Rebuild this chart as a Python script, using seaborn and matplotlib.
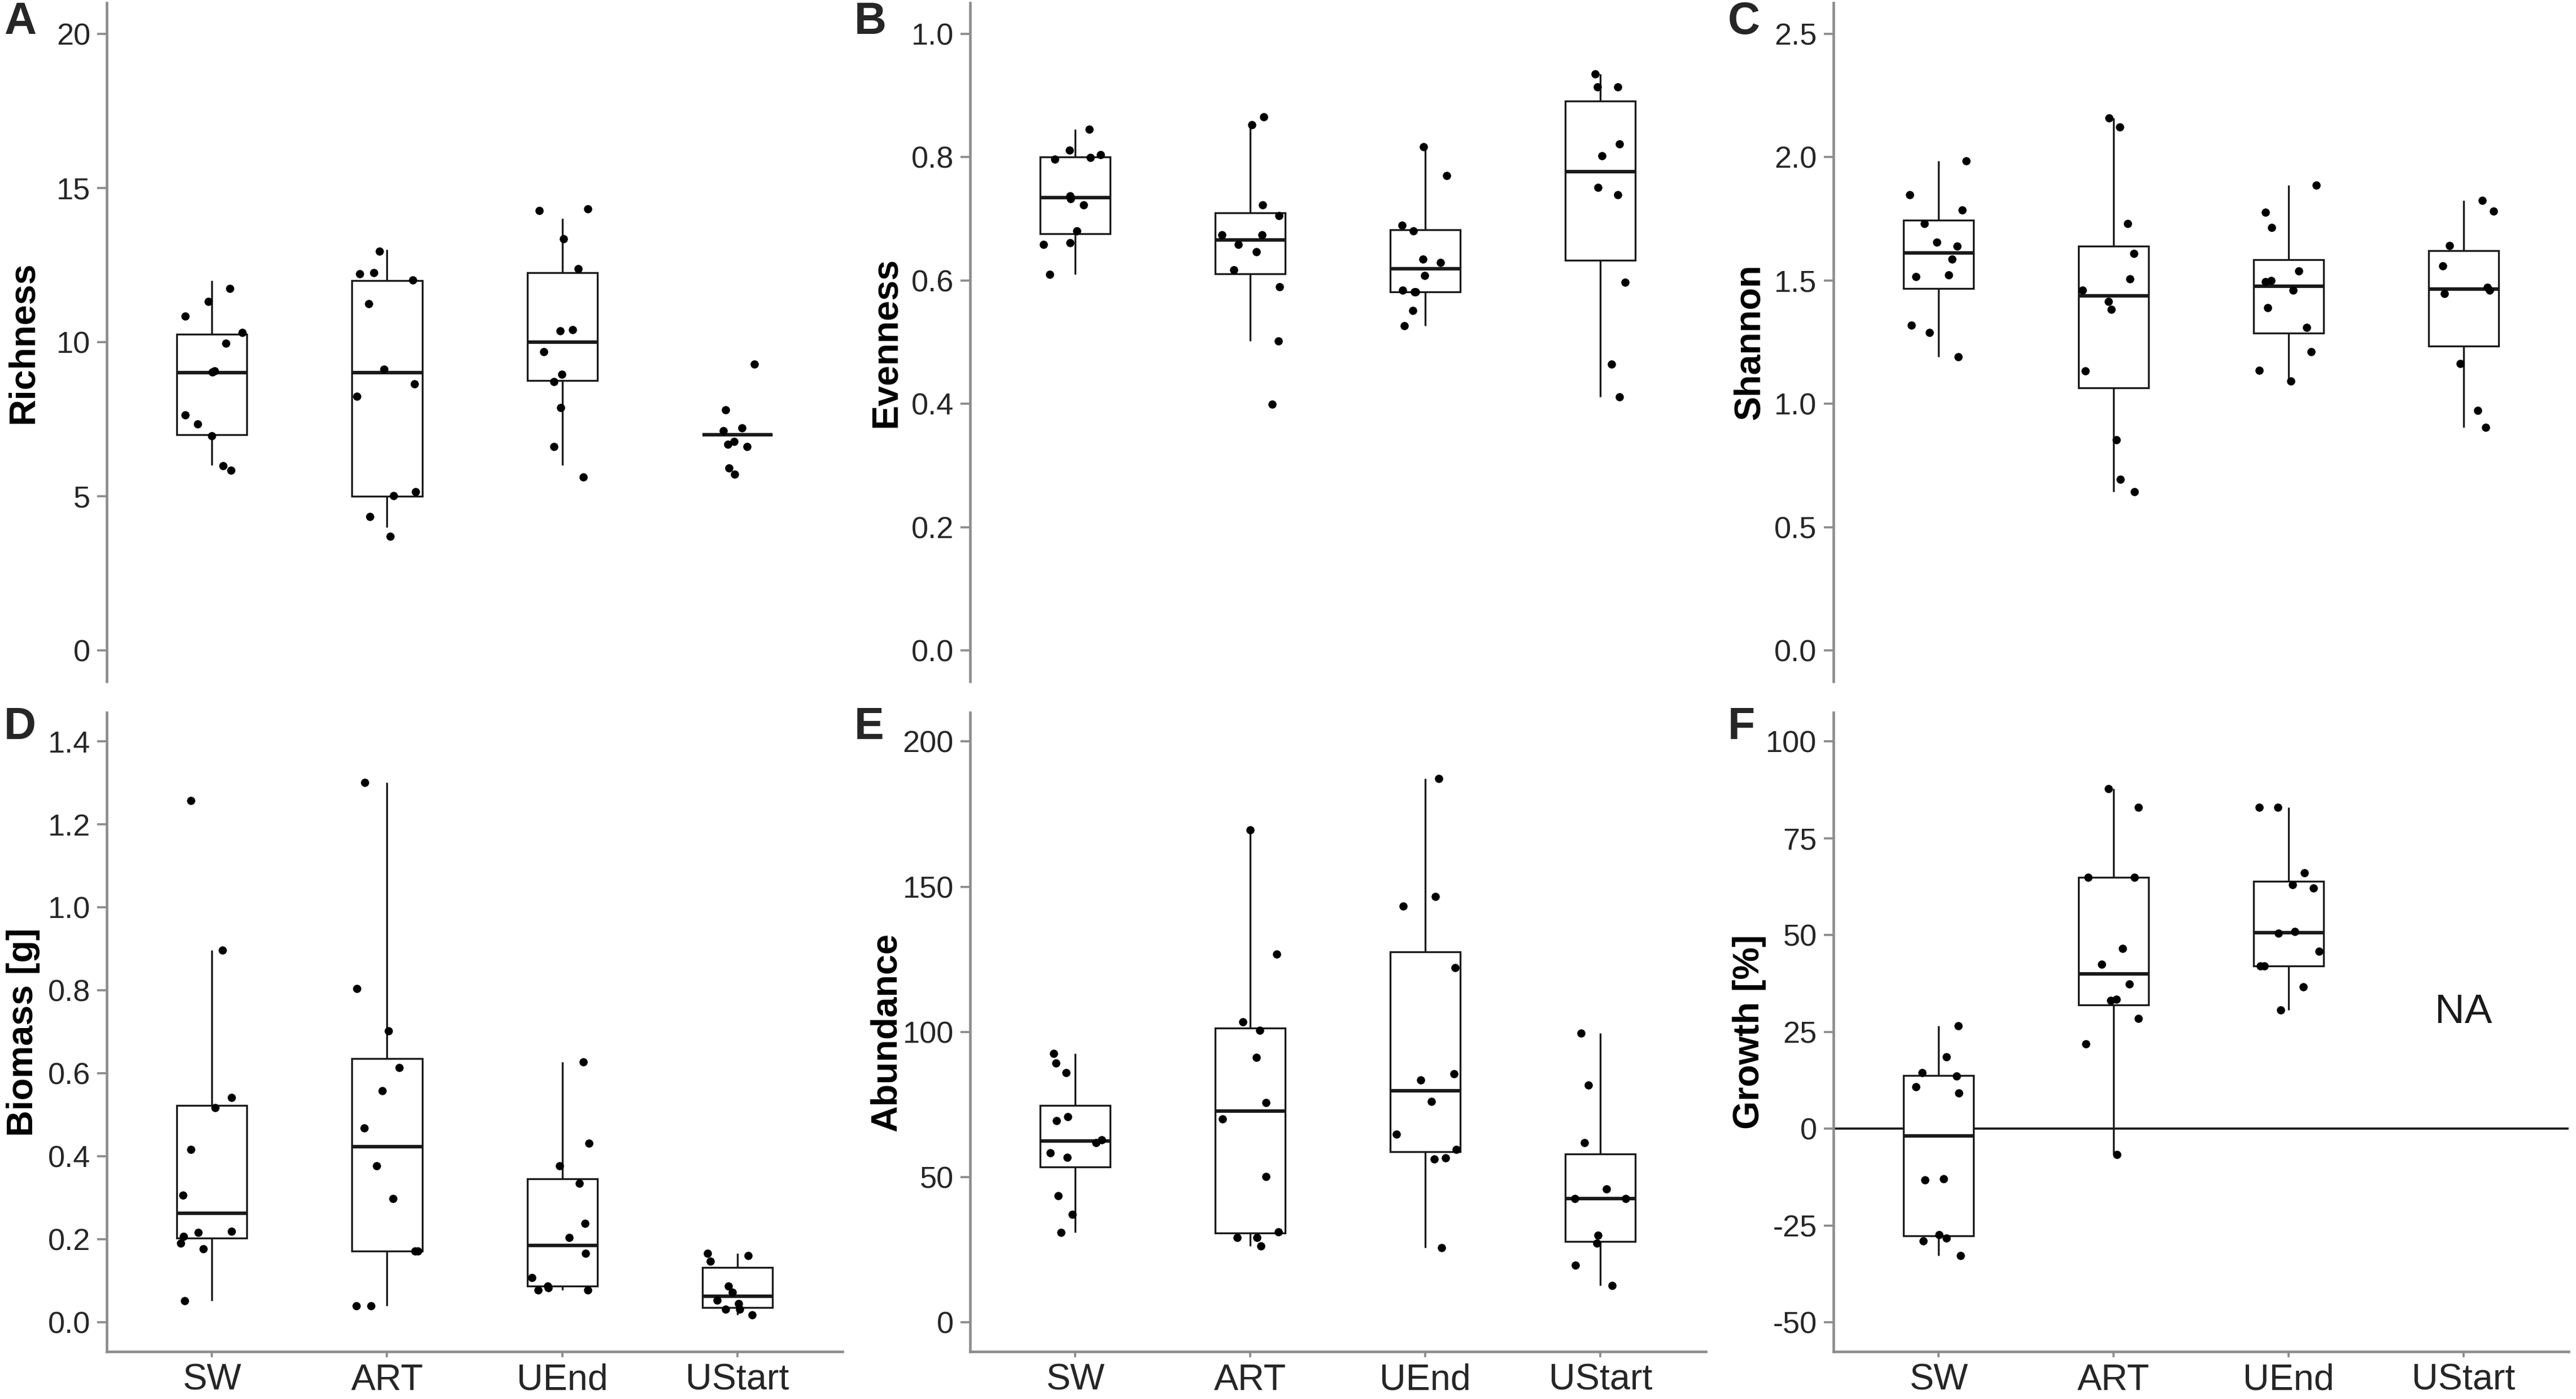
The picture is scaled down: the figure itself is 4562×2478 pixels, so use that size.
import numpy as np
import pandas as pd
import matplotlib
matplotlib.use("Agg")
import matplotlib.pyplot as plt
import seaborn as sns

# groups on the x axis
groups = ['SW', 'ART', 'UEnd', 'UStart']

# values (points as drawn)
richness = {
    'SW': [10.84, 11.73, 11.31, 9.96, 10.30, 9.06, 9.02, 7.64, 7.35, 6.96, 5.99, 5.85],
    'ART': [12.95, 12.22, 12.25, 12.02, 11.24, 9.12, 8.65, 8.24, 5.01, 5.14, 4.35, 3.70],
    'UEnd': [14.31, 14.27, 13.34, 12.38, 10.40, 10.36, 9.68, 8.95, 8.72, 7.88, 6.61, 5.63],
    'UStart': [9.29, 7.80, 7.22, 7.12, 6.77, 6.69, 6.61, 5.91, 5.72],
}
evenness = {
    'SW': [0.845, 0.811, 0.804, 0.796, 0.799, 0.737, 0.732, 0.722, 0.680, 0.661, 0.658, 0.610],
    'ART': [0.865, 0.852, 0.722, 0.705, 0.674, 0.674, 0.658, 0.646, 0.617, 0.590, 0.502, 0.399],
    'UEnd': [0.817, 0.770, 0.689, 0.680, 0.634, 0.629, 0.608, 0.584, 0.581, 0.581, 0.551, 0.526],
    'UStart': [0.935, 0.914, 0.914, 0.821, 0.802, 0.751, 0.739, 0.597, 0.464, 0.411],
}
shannon = {
    'SW': [1.985, 1.848, 1.784, 1.730, 1.655, 1.638, 1.586, 1.516, 1.521, 1.318, 1.289, 1.190],
    'ART': [2.158, 2.122, 1.730, 1.608, 1.505, 1.460, 1.415, 1.382, 1.134, 0.854, 0.694, 0.643],
    'UEnd': [1.885, 1.775, 1.714, 1.539, 1.494, 1.500, 1.460, 1.390, 1.310, 1.211, 1.136, 1.092],
    'UStart': [1.824, 1.781, 1.642, 1.559, 1.471, 1.460, 1.446, 1.163, 0.972, 0.905],
}
biomass = {
    'SW': [1.258, 0.897, 0.542, 0.517, 0.417, 0.306, 0.217, 0.220, 0.207, 0.191, 0.177, 0.052],
    'ART': [1.301, 0.804, 0.703, 0.614, 0.558, 0.469, 0.378, 0.298, 0.172, 0.172, 0.040, 0.040],
    'UEnd': [0.628, 0.432, 0.378, 0.335, 0.239, 0.204, 0.166, 0.108, 0.088, 0.084, 0.078, 0.078],
    'UStart': [0.166, 0.161, 0.148, 0.088, 0.072, 0.054, 0.046, 0.032, 0.032, 0.018],
}
abundance = {
    'SW': [92.6, 89.3, 86.0, 70.9, 69.5, 62.9, 61.9, 58.3, 56.8, 43.7, 37.1, 31.0],
    'ART': [169.6, 126.9, 103.5, 100.5, 91.3, 75.7, 70.0, 50.2, 31.2, 29.2, 29.2, 26.4],
    'UEnd': [187.3, 146.6, 143.4, 122.2, 85.5, 83.5, 76.0, 64.8, 59.6, 56.6, 56.3, 25.8],
    'UStart': [99.6, 81.8, 61.9, 46.0, 42.7, 42.7, 29.9, 27.3, 19.6, 12.6],
}
growth = {
    'SW': [26.6, 18.5, 14.5, 13.6, 10.9, 9.2, -12.9, -13.2, -27.4, -28.2, -28.9, -32.7],
    'ART': [87.8, 83.0, 64.9, 64.9, 46.5, 42.5, 37.4, 33.5, 33.2, 28.5, 21.9, -6.7],
    'UEnd': [83.0, 83.0, 66.1, 63.1, 62.2, 50.9, 50.5, 45.9, 42.1, 42.1, 36.6, 30.7],
    'UStart': [],
}

y_labels = ['Richness', 'Evenness', 'Shannon', 'Biomass [g]', 'Abundance', 'Growth [%]']
y_ticks = [
    [0, 5, 10, 15, 20],
    [0.0, 0.2, 0.4, 0.6, 0.8, 1.0],
    [0.0, 0.5, 1.0, 1.5, 2.0, 2.5],
    [0.0, 0.2, 0.4, 0.6, 0.8, 1.0, 1.2, 1.4],
    [0, 50, 100, 150, 200],
    [-50, -25, 0, 25, 50, 75, 100],
]
tick_fmt = ['{:.0f}', '{:.1f}', '{:.1f}', '{:.1f}', '{:.0f}', '{:.0f}']
letters = ['A', 'B', 'C', 'D', 'E', 'F']


def to_long(d):
    rows = [(g, v) for g in groups for v in d[g]]
    return pd.DataFrame(rows, columns=['group', 'value'])


sns.set_theme(style='ticks')
plt.rcParams['font.family'] = ['Liberation Sans', 'DejaVu Sans']

fig = plt.figure(figsize=(4562 / 300, 2478 / 300), dpi=300)
fig.patch.set_facecolor('white')

positions = [
    [0.0415, 0.513, 0.2855, 0.485],
    [0.3766, 0.513, 0.2855, 0.485],
    [0.7117, 0.513, 0.2855, 0.485],
    [0.0415, 0.034, 0.2855, 0.4567],
    [0.3766, 0.034, 0.2855, 0.4567],
    [0.7117, 0.034, 0.2855, 0.4567],
]
letter_xy = [(0.0015, 0.984), (0.3317, 0.984), (0.6708, 0.984),
             (0.0015, 0.480), (0.3317, 0.480), (0.6708, 0.480)]

datasets = [richness, evenness, shannon, biomass, abundance, growth]

np.random.seed(7)
for i, d in enumerate(datasets):
    ax = fig.add_axes(positions[i])
    df = to_long(d)
    box_df = df.copy()
    if i == 0:
        # richness is a count, the points were jittered vertically
        box_df['value'] = np.round(box_df['value'])

    sns.boxplot(data=box_df, x='group', y='value', order=groups, ax=ax,
                color='white', linecolor='#1a1a1a', linewidth=0.8, width=0.4,
                showcaps=False, showfliers=False,
                medianprops=dict(linewidth=1.5, color='#1a1a1a'))
    sns.stripplot(data=df, x='group', y='value', order=groups, ax=ax,
                  color='black', size=3.5, jitter=0.18, zorder=5)

    if i == 5:
        ax.axhline(0, color='#1a1a1a', linewidth=0.9, zorder=1)
        ax.text(3, 30, 'NA', ha='center', va='center', fontsize=17.5, color='#1a1a1a')

    ticks = y_ticks[i]
    pad = (ticks[-1] - ticks[0]) * 0.05
    ax.set_ylim(ticks[0] - pad, ticks[-1] + pad)
    ax.set_yticks(ticks)
    ax.set_yticklabels([tick_fmt[i].format(t) for t in ticks])
    ax.set_xlim(-0.6, 3.6)

    ax.set_ylabel(y_labels[i], fontsize=15.5, fontweight='bold', color='black')
    ax.yaxis.set_label_coords(-0.091, 0.5)
    ax.set_xlabel('')

    for s in ['top', 'right']:
        ax.spines[s].set_visible(False)
    for s in ['left', 'bottom']:
        ax.spines[s].set_color('#8c8c8c')
        ax.spines[s].set_linewidth(1.1)
    ax.tick_params(axis='both', colors='#8c8c8c', labelcolor='#262626',
                   labelsize=13, length=4, width=0.9, pad=3)
    if i < 3:
        ax.spines['bottom'].set_visible(False)
        ax.tick_params(axis='x', bottom=False, labelbottom=False)
    else:
        ax.tick_params(axis='x', labelsize=15.5, length=2.5, pad=2.5)
    ax.set_facecolor('white')

    fig.text(letter_xy[i][0], letter_xy[i][1], letters[i], fontsize=19,
             fontweight='bold', ha='left', va='center')

fig.savefig('out.png', dpi=300, facecolor='white')
